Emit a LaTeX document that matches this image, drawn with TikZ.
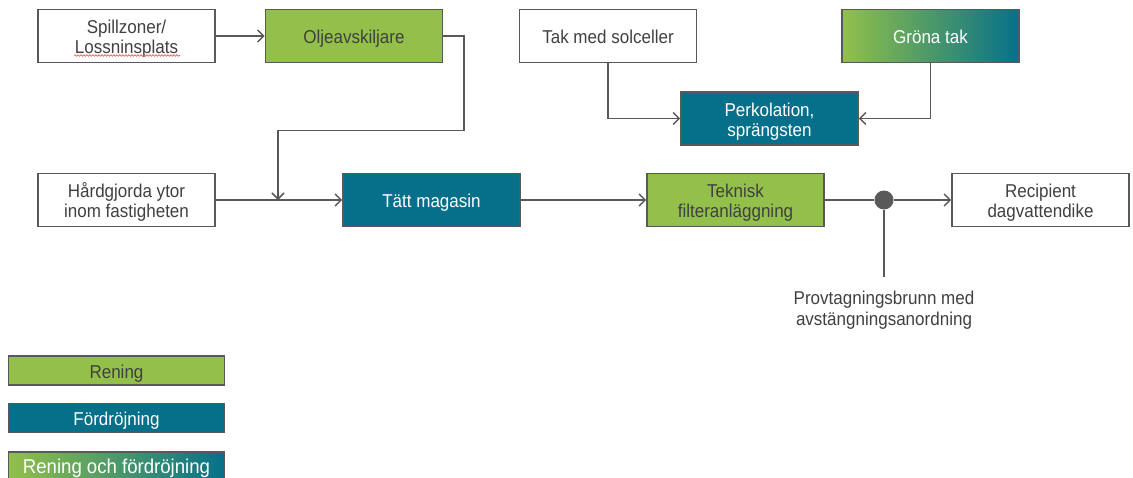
\documentclass[tikz,border=0pt]{standalone}
\usepackage{fontspec}
\setmainfont[FakeStretch=0.915]{Liberation Sans}
\newfontfamily\legfont[FakeStretch=0.93]{Liberation Sans}
\usetikzlibrary{arrows.meta,decorations.pathmorphing}
\definecolor{lgreen}{HTML}{92C04A}
\definecolor{teal1}{HTML}{06708A}
\definecolor{bord}{HTML}{595959}
\definecolor{txt}{HTML}{404040}
\newcommand{\topst}{\rule{0pt}{20pt}}
\newcommand{\botst}{\rule[-4.4pt]{0pt}{4.4pt}}
\tikzset{
  box/.style={draw=bord, line width=1.7pt, minimum width=177pt, minimum height=53pt, inner sep=0pt, align=center, font=\fontsize{18.6}{20}\selectfont, text=txt},
  whitebox/.style={box, fill=white},
  greenbox/.style={box, fill=lgreen},
  tealbox/.style={box, fill=teal1, text=white},
  gradbox/.style={box, left color=lgreen, right color=teal1, text=white},
  conn/.style={draw=bord, line width=1.7pt, -{Straight Barb[length=6pt,width=12pt,line width=1.5pt]}},
  plainline/.style={draw=bord, line width=1.7pt},
  legendbox/.style={box, minimum width=216pt, minimum height=29pt},
}
\begin{document}
\begin{tikzpicture}[x=1pt,y=-1pt]
\useasboundingbox (0,0) rectangle (1133,477);
\clip (0,0) rectangle (1133,477);
% boxes
\node[whitebox] (spill) at (126.5,36) {\topst Spillzoner/\\Lossninsplats\botst};
\node[greenbox] (olje) at (354,36) {\topst Oljeavskiljare\botst};
\node[whitebox] (tak) at (608,36) {\topst Tak med solceller\botst};
\node[gradbox] (grona) at (930.5,36) {\topst Gröna tak\botst};
\node[tealbox] (perk) at (769.5,118.5) {\topst Perkolation,\\sprängsten\botst};
\node[whitebox] (hard) at (126.5,200) {\topst Hårdgjorda ytor\\inom fastigheten\botst};
\node[tealbox] (tatt) at (431.5,200) {\topst Tätt magasin\botst};
\node[greenbox] (tek) at (735.5,200) {\topst Teknisk\\filteranläggning\botst};
\node[whitebox] (rec) at (1040.5,200) {\topst Recipient\\dagvattendike\botst};
\node[circle, fill=bord, minimum size=19pt, inner sep=0pt] (dot) at (884,200) {};
\coordinate (pend) at (884,277);
\coordinate (turn) at (464,130.5);
\coordinate (join) at (278,200);
\node[text=txt, font=\fontsize{18.6}{20.5}\selectfont, align=center, anchor=north, inner sep=0pt] (prov) at (884,284.5) {\topst Provtagningsbrunn med\\avstängningsanordning};
% spell-check underline
\draw[red!75, line width=0.6pt, decorate, decoration={snake, amplitude=0.8pt, segment length=3pt}] (74,55.5) -- (180,55.5);
% connectors
\draw[conn] (spill.east) -- (olje.west);
\draw[conn] (olje.east) -| (turn) -| (join);
\draw[conn] (hard.east) -- (tatt.west);
\draw[conn] (tatt.east) -- (tek.west);
\draw[plainline] (tek.east) -- (dot);
\draw[conn] (dot) -- (rec.west);
\draw[plainline] (dot) -- (pend);
\draw[conn] (tak.south) |- (perk.west);
\draw[conn] (grona.south) |- (perk.east);
% legend
\node[legendbox, fill=lgreen] (l1) at (116.5,370.2) {\topst Rening\botst};
\node[legendbox, fill=teal1, text=white] (l2) at (116.5,418) {\topst Fördröjning\botst};
\node[legendbox, left color=lgreen, right color=teal1, text=white, font=\legfont\fontsize{20}{21}\selectfont, minimum height=31pt, text height=14pt, text depth=3pt] (l3) at (116.5,467.5) {Rening och fördröjning};
\end{tikzpicture}
\end{document}
